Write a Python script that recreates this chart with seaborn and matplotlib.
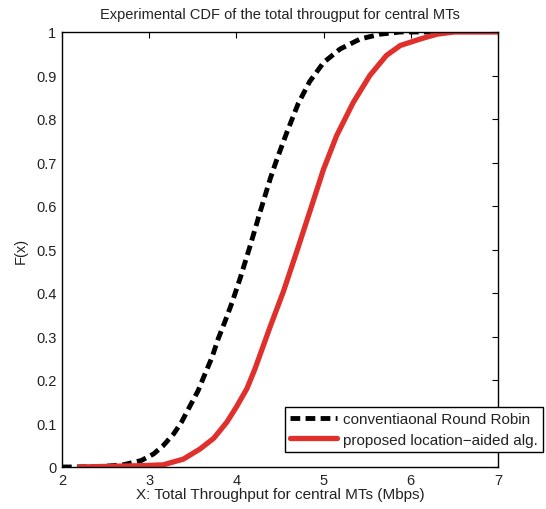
import numpy as np
import pandas as pd
import matplotlib
matplotlib.use("Agg")
import matplotlib.pyplot as plt
import seaborn as sns

# ---- data ----
rr_x = [2.0, 2.1, 2.45, 2.70, 2.91, 3.05, 3.16, 3.28, 3.37, 3.47, 3.56, 3.64, 3.72, 3.79,
        3.87, 3.95, 4.04, 4.16, 4.27, 4.39, 4.46, 4.58, 4.71, 4.84, 5.00, 5.19, 5.42,
        5.65, 5.88, 6.3]
rr_y = [0.0, 0.0, 0.001, 0.005, 0.015, 0.030, 0.049, 0.076, 0.103, 0.141, 0.175, 0.214,
        0.252, 0.294, 0.335, 0.378, 0.432, 0.51, 0.585, 0.664, 0.705, 0.77, 0.836,
        0.886, 0.93, 0.961, 0.984, 0.995, 1.0, 1.0]

la_x = [2.2, 2.55, 2.9, 3.16, 3.39, 3.58, 3.74, 3.89, 4.00, 4.12, 4.21, 4.30, 4.39, 4.54,
        4.69, 4.84, 5.00, 5.15, 5.34, 5.53, 5.72, 5.88, 6.11, 6.30, 6.5, 7.0]
la_y = [0.0, 0.0016, 0.003, 0.005, 0.018, 0.041, 0.066, 0.103, 0.138, 0.18, 0.224, 0.274,
        0.324, 0.404, 0.494, 0.586, 0.685, 0.762, 0.838, 0.90, 0.946, 0.969, 0.984,
        0.995, 1.0, 1.0]

label_rr = "conventiaonal Round Robin"
label_la = "proposed location\u2212aided alg."
title = "Experimental CDF of the total througput for central MTs"
xlabel = "X: Total Throughput for central MTs (Mbps)"
ylabel = "F(x)"
xticks = [2, 3, 4, 5, 6, 7]
yticks = [0, 0.1, 0.2, 0.3, 0.4, 0.5, 0.6, 0.7, 0.8, 0.9, 1]
yticklabels = ["0", "0.1", "0.2", "0.3", "0.4", "0.5", "0.6", "0.7", "0.8", "0.9", "1"]

df_rr = pd.DataFrame({"x": rr_x, "y": rr_y})
df_la = pd.DataFrame({"x": la_x, "y": la_y})

sns.set_style("white")
plt.rcParams["font.family"] = ["Liberation Sans", "DejaVu Sans"]
plt.rcParams["font.size"] = 10

fig = plt.figure(figsize=(5.46, 5.10), dpi=100)
ax = fig.add_axes([62 / 546, 1 - 468 / 510, 436 / 546, 435 / 510])

sns.lineplot(data=df_rr, x="x", y="y", ax=ax, sort=False, estimator=None,
             color="black", linewidth=3.5, label=label_rr)
ax.lines[-1].set_dashes((2.0, 1.1))
ax.lines[-1].set_solid_joinstyle("round")
sns.lineplot(data=df_la, x="x", y="y", ax=ax, sort=False, estimator=None,
             color="#E0302C", linewidth=3.8, label=label_la)
ax.lines[-1].set_solid_joinstyle("round")

ax.set_xlim(2, 7)
ax.set_ylim(0, 1)
ax.set_xticks(xticks)
ax.set_xticklabels([str(t) for t in xticks])
ax.set_yticks(yticks)
ax.set_yticklabels(yticklabels)
ax.tick_params(direction="in", length=4, width=0.8, top=True, right=True,
               labelsize=10.5, labelcolor="#222222", pad=4, color="black")
for s in ax.spines.values():
    s.set_color("black")
    s.set_linewidth(1.0)

ax.set_title(title, fontsize=10.5, color="#222222", pad=10)
ax.set_xlabel(xlabel, fontsize=11, color="#222222", labelpad=0)
ax.set_ylabel(ylabel, fontsize=10.5, color="#222222", labelpad=6)

leg = ax.legend(loc="lower left", bbox_to_anchor=(0.511, 0.0345), fontsize=11,
                frameon=True, fancybox=False, edgecolor="black", framealpha=1,
                handlelength=3.07, handletextpad=0.4, borderpad=0.35,
                labelspacing=0.42, borderaxespad=0)
leg.get_frame().set_linewidth(1.0)
for t in leg.get_texts():
    t.set_color("#222222")

fig.savefig("out.png", dpi=100)
